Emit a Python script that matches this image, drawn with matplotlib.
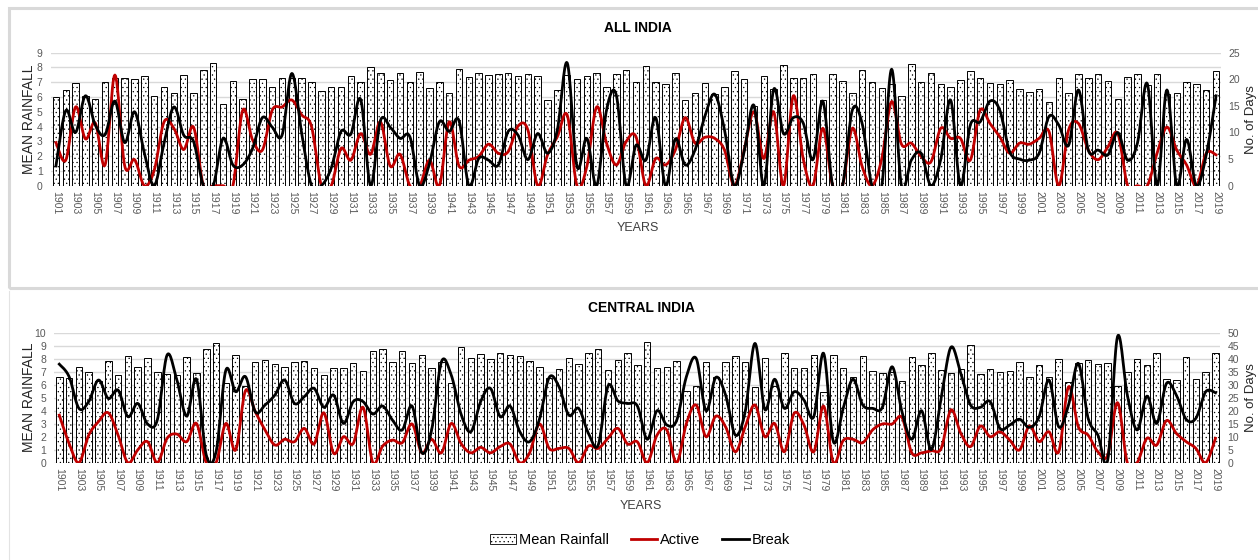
import numpy as np
import matplotlib.pyplot as plt
from matplotlib.patches import Rectangle
from matplotlib.lines import Line2D
from matplotlib.patches import Patch

plt.rcParams['font.family'] = ['Liberation Sans Narrow', 'Liberation Sans', 'DejaVu Sans']
plt.rcParams['hatch.linewidth'] = 0.4

years = list(range(1901, 2020))

# ALL INDIA
ai_rain = [6.0, 6.45, 6.95, 6.1, 5.85, 7.0, 7.3, 7.3, 7.25, 7.45,
           6.1, 6.7, 6.3, 7.5, 6.3, 7.8, 8.3, 5.55, 7.1, 5.9,
           7.25, 7.25, 6.7, 7.3, 7.3, 7.3, 7.05, 6.4, 6.65, 6.7,
           7.45, 7.0, 8.0, 7.6, 7.15, 7.65, 7.0, 7.7, 6.6, 7.0,
           6.3, 7.9, 7.35, 7.6, 7.5, 7.55, 7.65, 7.4, 7.55, 7.4,
           5.8, 6.5, 7.5, 7.2, 7.45, 7.65, 6.65, 7.55, 7.8, 7.0,
           8.08, 7.02, 6.86, 7.65, 5.78, 6.25, 6.98, 6.2, 6.7, 7.77,
           7.2, 5.42, 7.4, 6.52, 8.15, 7.27, 7.27, 7.54, 5.78, 7.54,
           7.09, 6.25, 7.81, 7.02, 6.59, 6.9, 6.1, 8.26, 7.02, 7.65,
           6.86, 6.7, 7.13, 7.77, 7.27, 6.98, 6.9, 7.13, 6.52, 6.37,
           6.52, 5.67, 7.27, 6.25, 7.54, 7.27, 7.54, 7.09, 5.85, 7.34,
           7.58, 6.8, 7.58, 6.2, 6.25, 7.02, 6.9, 6.48, 7.77]
ai_active = [8.1, 4.8, 14.8, 8.8, 11.8, 3.9, 20.8, 3.7, 4.9, 0,
             2.9, 12, 10.8, 6.8, 11, 0, 0, 0, 0, 14.2,
             8.6, 6.7, 14.2, 14.8, 16.1, 13.3, 11.1, 0, 0, 7,
             4.8, 9.8, 5.9, 12, 3.7, 5.9, 0, 0, 4.8, 0,
             12, 3.7, 4.8, 5.5, 7.8, 6.1, 6.4, 11.2, 10.5, 0,
             5.8, 9.2, 13.3, 0, 3.6, 14.8, 8, 3.9, 8.3, 9.2,
             0, 5.1, 3.9, 6.7, 12.8, 8, 9.1, 8.9, 6.7, 0,
             6.7, 13.9, 5.1, 13.9, 0, 16.9, 5.1, 0, 10.8, 0,
             0, 10.8, 3.6, 0, 5.1, 15.8, 7.8, 8, 5.5, 4.5,
             10.8, 8.9, 8.9, 4.8, 14.2, 11.7, 9.2, 6.1, 8, 7.8,
             8.9, 10.2, 0, 10.5, 11.7, 6.7, 4.9, 7.3, 9.8, 0,
             0, 0, 6.1, 11, 6.7, 3.9, 0, 6.1, 5.8]
ai_break = [3.7, 14.1, 10, 16.9, 11.4, 9.6, 15.9, 8.1, 13.9, 6.1,
            0, 8, 14.8, 9.5, 8.3, 0, 0, 8.9, 3.9, 3.9,
            7, 12.8, 11, 9.5, 21.1, 9.8, 0, 0, 3.3, 10.2,
            9.7, 16.2, 0, 12.2, 11, 8.9, 9.2, 0, 4.2, 12,
            10.2, 12.2, 0, 5.1, 4.8, 3.9, 10.2, 9.5, 4.9, 9.8,
            6.1, 10.5, 23.1, 3.6, 8.9, 0, 14.2, 17, 0, 7.6,
            4.8, 12.8, 0, 8.8, 3.9, 6.7, 13, 17.2, 10.5, 0,
            6.4, 15.1, 0, 18.1, 9.8, 12.8, 11.8, 4.9, 15.9, 0,
            0, 14.2, 11.7, 0, 0, 21.9, 0, 4.8, 6.1, 0,
            5, 16.1, 0, 11.4, 12, 15.9, 14.2, 6.4, 5, 4.8,
            6.1, 13, 11.4, 7.6, 18, 6.7, 6.7, 5.8, 10, 4.8,
            8, 19.2, 0, 18, 0, 8.7, 0, 5.8, 16.9]

# CENTRAL INDIA
ci_rain = [6.56, 6.49, 7.38, 6.95, 6.3, 7.85, 6.74, 8.23, 7.38, 8.08,
           7.0, 6.82, 6.74, 8.15, 6.87, 8.72, 9.23, 6.1, 8.31, 5.9,
           7.72, 7.92, 7.59, 7.33, 7.77, 7.85, 7.31, 6.74, 7.26, 7.31,
           7.69, 7.08, 8.59, 8.72, 7.72, 8.59, 7.69, 8.31, 7.26, 7.77,
           6.1, 8.87, 8.03, 8.33, 7.95, 8.41, 8.26, 8.18, 7.79, 7.33,
           6.49, 7.18, 8.03, 7.56, 8.41, 8.72, 7.13, 7.9, 8.41, 7.49,
           9.31, 7.31, 7.38, 7.79, 5.54, 5.92, 7.74, 6.6, 7.74, 8.18,
           7.74, 5.85, 8.03, 5.92, 8.46, 7.31, 7.31, 8.26, 5.44, 8.26,
           7.31, 6.56, 8.18, 7.08, 6.87, 7.0, 6.31, 8.1, 7.49, 8.46,
           7.13, 6.92, 7.18, 9.03, 6.85, 7.18, 6.95, 7.05, 7.74, 6.56,
           7.49, 6.6, 7.95, 6.2, 7.69, 7.9, 7.56, 7.64, 5.87, 6.97,
           7.95, 7.49, 8.46, 6.41, 6.33, 8.1, 6.41, 6.95, 8.46]
ci_active = [18.3, 7.4, 0, 10.6, 15.8, 19.2, 10.6, 0, 4.9, 8.1,
             0, 9.4, 11, 8.1, 15.1, 0, 0, 15.1, 4.9, 27.7,
             19.6, 12.6, 6.8, 9, 8.1, 13.2, 7.2, 19.2, 3.6, 10,
             7.4, 21.3, 0, 6.4, 8.7, 7.7, 14.9, 3.8, 9, 3.8,
             15.1, 7.4, 3.8, 5.9, 3.8, 6.2, 7.2, 0, 3.8, 14.9,
             5.5, 5.5, 5.5, 0, 6.4, 5.5, 9.4, 13.2, 7.2, 8,
             0, 10.6, 12.6, 0, 15.1, 22.2, 10, 17.9, 13.8, 4.2,
             13.8, 22.2, 10, 15.1, 4.2, 19, 14.5, 4.2, 21.8, 0,
             8.5, 9, 7.7, 12.6, 14.9, 14.9, 17.4, 3.8, 3.8, 4.6,
             5.5, 20.3, 11.3, 6.2, 14.1, 10, 11.9, 8.7, 4.9, 14.1,
             8.1, 11.9, 4.2, 29.2, 13.8, 10.6, 4.2, 2.9, 23.1, 0,
             0, 9.4, 6.8, 16.2, 11.3, 8.1, 5.5, 0, 9.4]
ci_break = [37.9, 33.1, 20.9, 23.5, 31.8, 24.7, 27.9, 17.7, 22.8, 14.9,
            16.4, 41.4, 31.8, 17.9, 32.1, 2.9, 4.2, 35.6, 27.3, 33.1,
            19.6, 22.2, 26, 31.8, 22.8, 25.4, 28.6, 21.3, 26, 15.1,
            23.5, 23.5, 18.7, 21.8, 16.4, 12.6, 21.8, 3.8, 12.6, 38.8,
            33.7, 18.7, 11.9, 23.5, 28.6, 17.7, 21.8, 11.9, 8.1, 16.7,
            32.8, 29.2, 18.3, 20.9, 11.3, 6.8, 29.5, 23.8, 22.8, 21.8,
            9, 20, 14.5, 16.2, 33.1, 40.1, 20, 32.8, 26, 10.6,
            19.6, 45.9, 20.5, 32.1, 20.9, 27.3, 24.1, 17.7, 42.1, 8.1,
            20.9, 32.1, 22.2, 20.9, 21.3, 36.9, 19.6, 9, 20, 5,
            24.7, 44.4, 34.4, 22.2, 21.3, 23.5, 13.2, 14.5, 16.7, 13.6,
            17.7, 31.8, 13.8, 22.2, 38.2, 17.1, 10.6, 1, 48.5, 26,
            12.6, 25.6, 15.1, 30.5, 26, 16.7, 17.1, 27.3, 26.9]

W, H = 1258, 560
GRAY = '#595959'
LBL = ['Liberation Sans', 'DejaVu Sans']


def smooth(x, y, n=16):
    # excel-style smoothed line (catmull-rom as bezier)
    x = np.asarray(x, float)
    y = np.asarray(y, float)
    t = np.linspace(0, 1, n, endpoint=False)[:, None]
    pts = np.column_stack([x, y])
    out = []
    for i in range(len(pts) - 1):
        p0 = pts[max(i - 1, 0)]
        p1, p2 = pts[i], pts[i + 1]
        p3 = pts[min(i + 2, len(pts) - 1)]
        c1 = p1 + (p2 - p0) / 6
        c2 = p2 - (p3 - p1) / 6
        seg = ((1 - t) ** 3) * p1 + 3 * ((1 - t) ** 2) * t * c1 + 3 * (1 - t) * t ** 2 * c2 + t ** 3 * p2
        out.append(seg)
    out.append(pts[-1:])
    out = np.vstack(out)
    return out[:, 0], out[:, 1]


def panel(rect, rain, active, brk, rmax, dmax, dstep):
    l, b, w, h = rect
    ax = fig.add_axes([l / W, 1 - (b + h) / H, w / W, h / H])
    ax.bar(years, rain, width=0.66, color='white', edgecolor='black',
           hatch='....', linewidth=0.7, zorder=2)
    ax.set_xlim(1900.5, 2019.5)
    ax.set_ylim(0, rmax)
    ax.set_yticks(range(0, rmax + 1))
    ax.grid(axis='y', color='#d9d9d9', linewidth=1, zorder=0)
    ax.set_axisbelow(True)
    ax.set_xticks(years[::2])
    ax.set_xticklabels([str(y) for y in years[::2]], rotation=-90, fontsize=7.5, color=GRAY)
    ax.tick_params(axis='both', length=0, pad=4)
    ax.tick_params(axis='y', labelsize=7.5, labelcolor=GRAY, pad=6)
    for s in ax.spines.values():
        s.set_visible(False)

    ax2 = ax.twinx()
    xs, ys = smooth(years, active)
    ax2.plot(xs, ys, color='#c00000', linewidth=2)
    xs, ys = smooth(years, brk)
    ax2.plot(xs, ys, color='black', linewidth=2)
    ax2.set_ylim(0, dmax)
    ax2.set_yticks(range(0, dmax + 1, dstep))
    ax2.tick_params(axis='y', length=0, labelsize=7.5, labelcolor=GRAY, pad=5)
    for s in ax2.spines.values():
        s.set_visible(False)

    yc = 1 - (b + h / 2) / H
    fig.text(29 / W, yc, 'MEAN RAINFALL', rotation=90, ha='center', va='center',
             fontsize=10, color='#262626', family=LBL)
    fig.text(1251 / W, yc, 'No. of Days', rotation=90, ha='center', va='center',
             fontsize=9.5, color='#262626', family=LBL)
    return ax


fig = plt.figure(figsize=(W / 100, H / 100), dpi=100)

# chart area frames
fig.patches.append(Rectangle((9 / W, 1 - 288 / H), 1.0, 280 / H, transform=fig.transFigure,
                             fill=False, edgecolor='#d9d9d9', linewidth=2.2))
fig.add_artist(Line2D([8.5 / W, 8.5 / W], [0, 1 - 291 / H], transform=fig.transFigure,
                      color='#e3e3e3', linewidth=0.8))

panel((51, 52.7, 1170, 133), ai_rain, ai_active, ai_break, 9, 25, 5)
panel((54.4, 332.7, 1166, 130), ci_rain, ci_active, ci_break, 10, 50, 5)

fig.text(638 / W, 1 - 28 / H, 'ALL INDIA', ha='center', va='center', fontsize=10, fontweight='bold')
fig.text(641 / W, 1 - 308 / H, 'CENTRAL INDIA', ha='center', va='center', fontsize=10, fontweight='bold')
fig.text(638 / W, 1 - 228 / H, 'YEARS', ha='center', va='center', fontsize=9, color='#404040')
fig.text(641 / W, 1 - 506 / H, 'YEARS', ha='center', va='center', fontsize=9, color='#404040')

handles = [Patch(facecolor='white', edgecolor='black', hatch='....', linewidth=0.6),
           Line2D([], [], color='#c00000', linewidth=2),
           Line2D([], [], color='black', linewidth=2)]
fig.legend(handles, ['Mean Rainfall', 'Active', 'Break'], loc='center', ncol=3,
           bbox_to_anchor=(640 / W, 1 - 540 / H), frameon=False, fontsize=10.5,
           handlelength=1.8, handletextpad=0.2, columnspacing=1.5)

fig.savefig('out.png', dpi=100)
